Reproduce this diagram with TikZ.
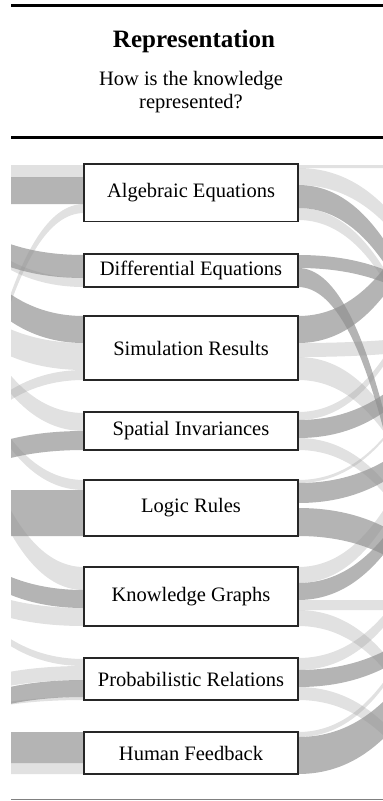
\documentclass[tikz,border=0pt]{standalone}
\usepackage{fontspec}
\setmainfont{Liberation Serif}
% flow bands: style, top y at the box, bottom y at the box, vertical offset at the far end
\newcommand\leftband[4]{\fill[#1] (84,#2) .. controls (-58,#2) and (-58,#2+#4) .. (-200,#2+#4) -- (-200,#3+#4) .. controls (-58,#3+#4) and (-58,#3) .. (84,#3) -- cycle;}
\newcommand\rightband[4]{\fill[#1] (298,#2) .. controls (448,#2) and (448,#2+#4) .. (598,#2+#4) -- (598,#3+#4) .. controls (448,#3+#4) and (448,#3) .. (298,#3) -- cycle;}
\begin{document}
\begin{tikzpicture}[x=1pt,y=-1pt,
  repbox/.style={draw=black!85, line width=1.4pt, fill=white, inner sep=0pt,
    minimum width=214pt, font=\fontsize{20.5}{24}\selectfont},
  dk/.style={fill=black!43.5, fill opacity=0.68},
  lt/.style={fill=black!43.5, fill opacity=0.27}]
\useasboundingbox (0,0) rectangle (383,801);

% header
\draw[line width=3pt] (11,5.5) -- (383,5.5);
\node (title) at (194,41) {\fontsize{25}{29}\selectfont\bfseries Representation};
\node[align=center, font=\fontsize{20.5}{23.5}\selectfont] (sub) at (191,92) {How is the knowledge\\represented?};
\draw[line width=3pt] (11,137) -- (383,137);
\draw[line width=0.8pt, black!50] (11,799.5) -- (383,799.5);

% flows
\begin{scope}
\clip (11,145) rectangle (383,792);
% incoming (left)
\leftband{lt}{165}{177}{0}
\leftband{dk}{177}{204}{0}
\leftband{lt}{204}{213}{790}
\leftband{dk}{255}{278}{-95}
\leftband{lt}{278}{287}{-150}
\leftband{dk}{316}{343}{-190}
\leftband{lt}{343}{370}{-120}
\leftband{lt}{370}{380}{175}
\leftband{lt}{413}{431}{-330}
\leftband{dk}{431}{450}{70}
\leftband{lt}{480}{490}{-365}
\leftband{dk}{490}{536}{0}
\leftband{lt}{567}{590}{-500}
\leftband{dk}{590}{608}{-115}
\leftband{lt}{608}{626}{-70}
\leftband{lt}{659}{666}{-175}
\leftband{lt}{666}{680}{50}
\leftband{dk}{680}{697}{60}
\leftband{lt}{697}{700}{40}
\leftband{dk}{732}{763}{0}
\leftband{lt}{763}{774}{0}
% outgoing (right)
\rightband{lt}{165}{168}{0}
\rightband{lt}{168}{185}{260}
\rightband{dk}{185}{208}{380}
\rightband{lt}{208}{220}{420}
\rightband{dk}{255}{268}{100}
\rightband{dk}{268}{287}{1000}
\rightband{dk}{316}{343}{-330}
\rightband{lt}{343}{357}{-20}
\rightband{lt}{357}{380}{360}
\rightband{lt}{412}{420}{-380}
\rightband{dk}{420}{438}{-180}
\rightband{lt}{438}{450}{300}
\rightband{lt}{480}{483}{-300}
\rightband{dk}{483}{503}{-150}
\rightband{dk}{508}{536}{130}
\rightband{lt}{567}{583}{-400}
\rightband{dk}{583}{600}{-320}
\rightband{lt}{600}{610}{0}
\rightband{lt}{610}{626}{300}
\rightband{lt}{658}{670}{-300}
\rightband{dk}{670}{687}{-130}
\rightband{lt}{687}{700}{250}
\rightband{lt}{732}{737}{-350}
\rightband{dk}{737}{774}{-250}
\end{scope}

% representation boxes
\node[repbox, minimum height=57.5pt] (alg)  at (191,192.75) {Algebraic Equations};
\node[repbox, minimum height=33pt]   (diff) at (191,270.5)  {Differential Equations};
\node[repbox, minimum height=64pt]   (sim)  at (191,348)    {Simulation Results};
\node[repbox, minimum height=38pt]   (spat) at (191,431)    {Spatial Invariances};
\node[repbox, minimum height=56pt]   (logic) at (191,508)   {Logic Rules};
\node[repbox, minimum height=59pt]   (kg)   at (191,596.5)  {Knowledge Graphs};
\node[repbox, minimum height=42pt]   (prob) at (191,679)    {Probabilistic Relations};
\node[repbox, minimum height=42pt]   (human) at (191,753)   {Human Feedback};
\end{tikzpicture}
\end{document}
